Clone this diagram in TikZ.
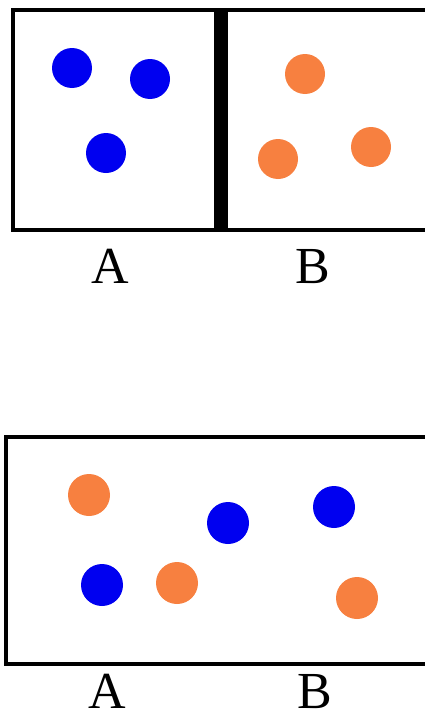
\documentclass[tikz,border=0pt]{standalone}
\usepackage{fontspec}
\setmainfont{Liberation Serif}
\usepackage{tikz}
\definecolor{dotblue}{RGB}{0, 0, 240}
\definecolor{dotorange}{RGB}{247, 128, 64}

\begin{document}
\begin{tikzpicture}[x=1pt, y=-1pt,
  bluedot/.style={circle, fill=dotblue, inner sep=0pt, minimum size=40pt},
  orangedot/.style={circle, fill=dotorange, inner sep=0pt, minimum size=40pt},
  wall/.style={draw=black, line width=4pt},
  tag/.style={anchor=base, inner sep=0pt, font=\fontsize{52}{60}\selectfont}]
\useasboundingbox (0,0) rectangle (425,720);
\clip (0,0) rectangle (425,720);

% before: two parts with a wall
\draw[wall] (12.5,9.5) rectangle (440,229.5);
\fill[black] (214,9.5) rectangle (228,229.5);
\node[bluedot] (b1) at (72,68) {};
\node[bluedot] (b2) at (150,79) {};
\node[bluedot] (b3) at (106,153) {};
\node[orangedot] (o1) at (305,74) {};
\node[orangedot] (o2) at (278,159) {};
\node[orangedot] (o3) at (371,147) {};
\node[tag] (la1) at (110,283) {A};
\node[tag] (lb1) at (313,283) {B};

% after: wall removed, mixed
\draw[wall] (5.5,436.5) rectangle (440,663.5);
\node[orangedot, minimum size=42pt] (o4) at (89,495) {};
\node[bluedot, minimum size=42pt] (b4) at (228,523) {};
\node[bluedot, minimum size=42pt] (b5) at (334,507) {};
\node[bluedot, minimum size=42pt] (b6) at (102,585) {};
\node[orangedot, minimum size=42pt] (o5) at (177,583) {};
\node[orangedot, minimum size=42pt] (o6) at (357,598) {};
\node[tag] (la2) at (107,708) {A};
\node[tag] (lb2) at (315,708) {B};
\end{tikzpicture}
\end{document}
